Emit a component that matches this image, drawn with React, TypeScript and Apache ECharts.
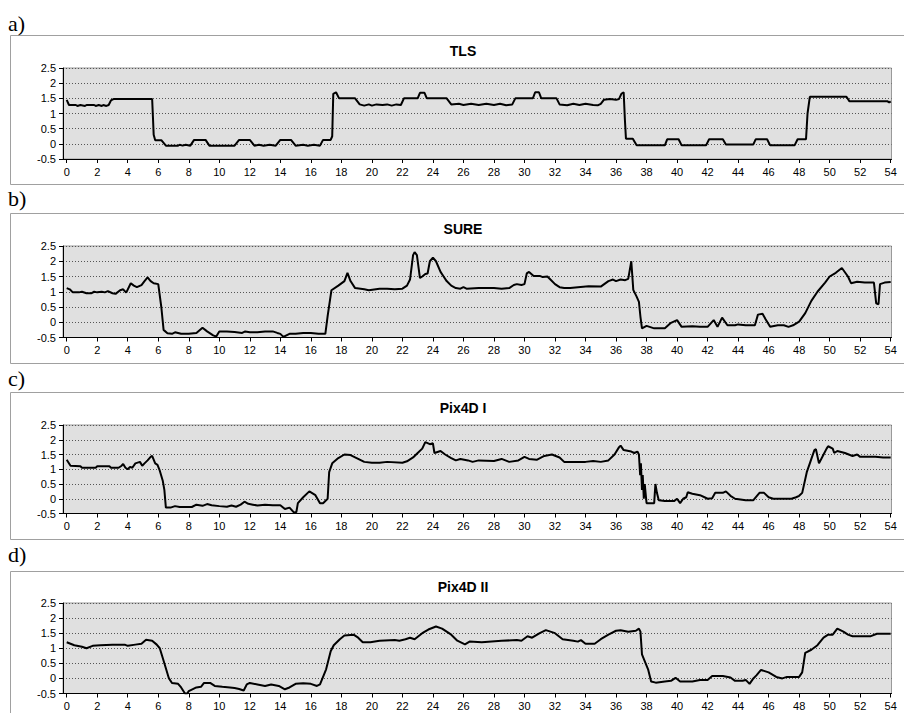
import React, { useEffect, useRef } from "react";
import * as echarts from "echarts";

// ---------- data (x = position, y = value) ----------
const X_TICKS = [0, 2, 4, 6, 8, 10, 12, 14, 16, 18, 20, 22, 24, 26, 28, 30, 32, 34, 36, 38, 40, 42, 44, 46, 48, 50, 52, 54];
const Y_TICKS_MIN = -0.5;
const Y_TICKS_MAX = 2.5;
const Y_INTERVAL = 0.5;

const LABELS = ["a)", "b)", "c)", "d)"];
const TITLES = ["TLS", "SURE", "Pix4D I", "Pix4D II"];

const TLS: [number, number][] = [
  [0, 1.45], [0.15, 1.28], [0.6, 1.28], [0.7, 1.25], [0.9, 1.28], [1.2, 1.25], [1.3, 1.28], [1.8, 1.28], [1.9, 1.25], [2.1, 1.28],
  [2.3, 1.25], [2.4, 1.28], [2.6, 1.25], [2.75, 1.28], [2.9, 1.43], [3.1, 1.48], [5.6, 1.48], [5.65, 0.9], [5.7, 0.3], [5.8, 0.12],
  [6.2, 0.12], [6.5, -0.06], [7.3, -0.06], [7.4, -0.03], [7.6, -0.06], [7.8, -0.03], [8.1, -0.06], [8.35, 0.13], [9.1, 0.13],
  [9.35, -0.06], [11.0, -0.06], [11.3, 0.13], [12.0, 0.13], [12.3, -0.06], [12.6, -0.03], [12.9, -0.06], [13.3, -0.03], [13.7, -0.06],
  [14.0, 0.13], [14.7, 0.13], [15.0, -0.06], [15.5, -0.03], [15.8, -0.06], [16.2, -0.03], [16.6, -0.06], [16.8, 0.13], [17.3, 0.13],
  [17.4, 0.25], [17.47, 1.65], [17.65, 1.7], [17.85, 1.5], [18.9, 1.5], [19.2, 1.3], [19.5, 1.26], [19.8, 1.3], [20.0, 1.26],
  [20.3, 1.3], [20.7, 1.28], [21.0, 1.3], [21.3, 1.26], [21.6, 1.3], [21.9, 1.28], [22.1, 1.5], [23.0, 1.5], [23.15, 1.68],
  [23.45, 1.68], [23.6, 1.5], [24.9, 1.5], [25.2, 1.3], [25.7, 1.32], [26.0, 1.28], [26.5, 1.32], [27.0, 1.28], [27.5, 1.32],
  [28.0, 1.28], [28.4, 1.32], [28.8, 1.27], [29.2, 1.3], [29.4, 1.5], [30.55, 1.5], [30.7, 1.7], [30.95, 1.7], [31.1, 1.5],
  [32.1, 1.5], [32.3, 1.3], [32.8, 1.27], [33.2, 1.32], [33.6, 1.28], [34.0, 1.32], [34.5, 1.28], [34.8, 1.27], [35.0, 1.32],
  [35.2, 1.45], [35.6, 1.48], [36.0, 1.45], [36.2, 1.48], [36.35, 1.65], [36.5, 1.7], [36.58, 0.8], [36.65, 0.17], [37.1, 0.17],
  [37.35, -0.05], [39.2, -0.05], [39.35, 0.15], [40.1, 0.15], [40.3, -0.05], [41.9, -0.05], [42.1, 0.15], [43.0, 0.15],
  [43.2, -0.02], [45.0, -0.02], [45.15, 0.15], [45.9, 0.15], [46.1, -0.05], [47.7, -0.05], [47.9, 0.15], [48.45, 0.15],
  [48.55, 1.0], [48.7, 1.55], [51.1, 1.55], [51.3, 1.4], [53.8, 1.4], [53.9, 1.36], [54, 1.4],
];

const SURE: [number, number][] = [
  [0, 1.12], [0.2, 1.08], [0.4, 0.98], [0.8, 0.98], [1.0, 1.0], [1.3, 0.95], [1.6, 0.95], [1.8, 1.0], [2.0, 0.98], [2.3, 1.0],
  [2.5, 0.98], [2.7, 1.02], [3.0, 0.95], [3.2, 0.93], [3.5, 1.05], [3.7, 1.08], [3.9, 0.97], [4.2, 1.28], [4.4, 1.2], [4.6, 1.15],
  [4.9, 1.22], [5.1, 1.35], [5.3, 1.47], [5.5, 1.35], [5.7, 1.28], [6.0, 1.25], [6.2, 0.5], [6.35, -0.25], [6.6, -0.36],
  [6.9, -0.38], [7.1, -0.33], [7.5, -0.38], [8.0, -0.38], [8.5, -0.35], [8.9, -0.18], [9.2, -0.3], [9.6, -0.43], [9.8, -0.47],
  [10.0, -0.3], [10.5, -0.3], [11.0, -0.32], [11.5, -0.35], [11.7, -0.3], [12.0, -0.33], [12.5, -0.33], [13.0, -0.3],
  [13.5, -0.3], [13.8, -0.35], [14.0, -0.38], [14.2, -0.48], [14.6, -0.38], [15.0, -0.38], [15.5, -0.35], [16.0, -0.35],
  [16.5, -0.38], [16.95, -0.38], [17.1, 0.2], [17.35, 1.05], [17.8, 1.2], [18.2, 1.35], [18.4, 1.62], [18.6, 1.35],
  [18.9, 1.12], [19.5, 1.08], [19.8, 1.05], [20.5, 1.1], [21.0, 1.1], [21.5, 1.08], [22.0, 1.1], [22.3, 1.2], [22.5, 1.4],
  [22.7, 2.2], [22.8, 2.3], [22.95, 2.2], [23.15, 1.45], [23.3, 1.5], [23.5, 1.58], [23.65, 1.6], [23.8, 2.0], [24.0, 2.12],
  [24.2, 2.0], [24.5, 1.65], [24.7, 1.5], [24.9, 1.35], [25.2, 1.2], [25.5, 1.12], [25.8, 1.1], [26.0, 1.15], [26.2, 1.1],
  [27.0, 1.12], [28.0, 1.12], [28.5, 1.1], [29.0, 1.12], [29.3, 1.22], [29.5, 1.25], [29.8, 1.22], [30.0, 1.25], [30.15, 1.6],
  [30.3, 1.65], [30.6, 1.52], [31.0, 1.52], [31.2, 1.48], [31.5, 1.5], [31.7, 1.4], [32.0, 1.25], [32.3, 1.15], [32.6, 1.12],
  [33.0, 1.12], [33.5, 1.15], [34.2, 1.18], [35.0, 1.17], [35.5, 1.35], [35.8, 1.4], [36.0, 1.35], [36.3, 1.4], [36.6, 1.38],
  [36.8, 1.42], [37.0, 2.0], [37.13, 1.06], [37.35, 0.84], [37.5, 0.67], [37.6, 0.18], [37.7, -0.2], [38.0, -0.12],
  [38.5, -0.2], [39.2, -0.2], [39.6, -0.02], [40.0, 0.07], [40.3, -0.15], [41.0, -0.13], [41.5, -0.15], [42.0, -0.15],
  [42.4, 0.07], [42.65, -0.15], [42.95, 0.15], [43.3, -0.1], [43.8, -0.1], [44.0, -0.07], [44.5, -0.1], [45.1, -0.1],
  [45.3, 0.25], [45.6, 0.28], [45.8, 0.1], [46.1, -0.15], [46.6, -0.1], [47.0, -0.1], [47.3, -0.15], [47.6, -0.1],
  [48.0, 0.02], [48.4, 0.3], [48.8, 0.7], [49.2, 1.0], [49.7, 1.3], [50.0, 1.5], [50.4, 1.62], [50.8, 1.78], [51.2, 1.5],
  [51.4, 1.28], [51.8, 1.33], [52.3, 1.3], [52.9, 1.3], [53.05, 0.62], [53.2, 0.59], [53.3, 1.25], [53.6, 1.3], [54, 1.32],
];

const PIX4D_I: [number, number][] = [
  [0, 1.32], [0.25, 1.12], [0.9, 1.1], [1.0, 1.05], [1.9, 1.05], [2.0, 1.1], [2.8, 1.1], [2.9, 1.05], [3.4, 1.05], [3.6, 1.12],
  [3.7, 1.18], [3.85, 1.05], [4.0, 1.0], [4.15, 1.08], [4.3, 1.05], [4.5, 1.2], [4.8, 1.25], [4.95, 1.12], [5.1, 1.2],
  [5.3, 1.3], [5.5, 1.42], [5.6, 1.45], [5.8, 1.2], [5.95, 1.15], [6.1, 0.95], [6.3, 0.6], [6.4, 0.3], [6.5, -0.3],
  [6.8, -0.3], [7.1, -0.25], [7.4, -0.28], [8.2, -0.28], [8.5, -0.2], [8.9, -0.24], [9.2, -0.18], [9.5, -0.22], [10.0, -0.25],
  [10.5, -0.27], [10.8, -0.23], [11.1, -0.27], [11.4, -0.2], [11.65, -0.1], [11.9, -0.17], [12.2, -0.2], [12.5, -0.23],
  [13.0, -0.2], [13.5, -0.22], [14.0, -0.22], [14.3, -0.35], [14.6, -0.3], [14.9, -0.47], [15.05, -0.45], [15.15, -0.15],
  [15.5, 0.05], [15.9, 0.25], [16.3, 0.12], [16.6, -0.15], [16.8, -0.15], [17.0, -0.05], [17.1, 0.0], [17.2, 0.9], [17.4, 1.2],
  [17.8, 1.38], [18.2, 1.5], [18.6, 1.48], [19.0, 1.38], [19.5, 1.25], [20.0, 1.22], [20.5, 1.22], [21.0, 1.25], [22.0, 1.22],
  [22.3, 1.27], [22.7, 1.4], [23.0, 1.55], [23.3, 1.7], [23.5, 1.92], [23.8, 1.85], [24.0, 1.88], [24.1, 1.55], [24.5, 1.62],
  [24.8, 1.5], [25.2, 1.38], [25.5, 1.3], [25.8, 1.35], [26.3, 1.3], [26.6, 1.25], [27.0, 1.3], [28.0, 1.28], [28.5, 1.35],
  [29.0, 1.25], [29.6, 1.3], [30.0, 1.42], [30.3, 1.35], [30.8, 1.32], [31.3, 1.45], [31.8, 1.5], [32.3, 1.4], [32.6, 1.25],
  [34.0, 1.25], [34.5, 1.28], [35.0, 1.25], [35.5, 1.3], [35.9, 1.5], [36.2, 1.75], [36.3, 1.8], [36.5, 1.65], [37.0, 1.6],
  [37.2, 1.55], [37.4, 1.6], [37.5, 1.5], [37.58, 0.8], [37.63, 1.2], [37.7, 0.3], [37.75, 0.8], [37.82, 0.0], [37.88, 0.5],
  [38.0, -0.15], [38.5, -0.15], [38.58, 0.5], [38.68, 0.2], [38.8, -0.05], [39.2, -0.08], [39.8, -0.08], [40.0, 0.0],
  [40.2, -0.15], [40.4, 0.0], [40.6, 0.05], [40.7, 0.22], [41.0, 0.17], [41.5, 0.12], [41.8, 0.05], [42.0, 0.0], [42.3, 0.02],
  [42.5, 0.2], [43.0, 0.2], [43.2, 0.25], [43.5, 0.1], [43.8, 0.0], [44.5, -0.05], [45.0, -0.05], [45.4, 0.2], [45.7, 0.2],
  [46.0, 0.05], [46.3, 0.0], [47.5, 0.0], [47.8, 0.05], [48.0, 0.1], [48.2, 0.2], [48.5, 0.9], [48.7, 1.2], [48.8, 1.35],
  [49.0, 1.65], [49.1, 1.68], [49.3, 1.2], [49.6, 1.5], [49.8, 1.7], [49.9, 1.78], [50.2, 1.7], [50.3, 1.55], [50.5, 1.62],
  [51.0, 1.55], [51.5, 1.45], [51.8, 1.5], [52.0, 1.42], [53.0, 1.42], [53.5, 1.4], [54, 1.4],
];

const PIX4D_II: [number, number][] = [
  [0, 1.2], [0.5, 1.1], [1.0, 1.05], [1.3, 1.0], [1.7, 1.08], [2.2, 1.1], [3.0, 1.12], [3.8, 1.12], [4.0, 1.08], [4.5, 1.12],
  [4.9, 1.15], [5.2, 1.28], [5.6, 1.25], [5.9, 1.12], [6.1, 1.0], [6.4, 0.5], [6.7, 0.0], [6.9, -0.15], [7.3, -0.18],
  [7.5, -0.3], [7.75, -0.5], [7.9, -0.5], [8.0, -0.42], [8.5, -0.3], [8.8, -0.28], [9.0, -0.15], [9.4, -0.15], [9.7, -0.25],
  [10.2, -0.28], [10.7, -0.3], [11.0, -0.32], [11.3, -0.35], [11.6, -0.4], [11.8, -0.2], [12.0, -0.15], [12.5, -0.2],
  [13.0, -0.25], [13.4, -0.2], [13.9, -0.25], [14.3, -0.36], [14.6, -0.3], [15.0, -0.18], [15.5, -0.16], [16.0, -0.18],
  [16.4, -0.25], [16.6, -0.2], [17.0, 0.3], [17.3, 0.9], [17.5, 1.1], [17.9, 1.3], [18.2, 1.42], [18.8, 1.45], [19.1, 1.35],
  [19.4, 1.2], [19.9, 1.2], [20.5, 1.25], [21.5, 1.27], [21.8, 1.25], [22.2, 1.3], [22.5, 1.35], [22.8, 1.3], [23.3, 1.5],
  [23.7, 1.62], [24.2, 1.72], [24.6, 1.65], [25.2, 1.45], [25.6, 1.25], [26.1, 1.13], [26.4, 1.22], [27.2, 1.2], [28.5, 1.25],
  [29.5, 1.27], [29.8, 1.25], [30.2, 1.4], [30.5, 1.35], [31.0, 1.5], [31.4, 1.6], [32.0, 1.5], [32.5, 1.3], [33.2, 1.25],
  [33.5, 1.22], [33.7, 1.27], [34.0, 1.15], [34.6, 1.15], [35.0, 1.3], [35.5, 1.45], [36.0, 1.58], [36.3, 1.6], [36.8, 1.55],
  [37.3, 1.58], [37.5, 1.65], [37.6, 1.55], [37.7, 0.8], [37.9, 0.55], [38.1, 0.3], [38.3, -0.1], [38.6, -0.14], [39.2, -0.1],
  [39.6, -0.08], [39.9, 0.02], [40.2, -0.1], [41.0, -0.1], [41.5, -0.05], [42.0, -0.05], [42.3, 0.08], [43.0, 0.08],
  [43.5, 0.03], [43.8, -0.08], [44.3, -0.08], [44.5, -0.05], [44.75, -0.18], [45.0, 0.0], [45.2, 0.1], [45.5, 0.28],
  [46.0, 0.2], [46.5, 0.05], [46.9, 0.0], [47.2, 0.05], [48.0, 0.05], [48.2, 0.2], [48.4, 0.85], [48.8, 0.95], [49.2, 1.1],
  [49.6, 1.35], [49.9, 1.45], [50.2, 1.45], [50.5, 1.65], [50.9, 1.55], [51.2, 1.45], [51.5, 1.4], [52.7, 1.4], [53.1, 1.48],
  [54, 1.48],
];

const SERIES_DATA = [TLS, SURE, PIX4D_I, PIX4D_II];

// ---------- layout ----------
const W = 904;
const H = 713;
const BOX_TOP = [35, 213, 392, 571];
const BOX_BOTTOM = [184, 363, 539, 760];
const LABEL_Y = [23, 198, 378, 554];
const PLOT_TOP = [68, 246, 425, 603];
const PLOT_BOTTOM = [159, 337.5, 513.5, 693.5];
const PLOT_LEFT = 63;
const PLOT_RIGHT = 891.5;
const X0_PX = 66.7; // pixel of x = 0
const X54_PX = 890.7; // pixel of x = 54
const PX_PER_UNIT = (X54_PX - X0_PX) / 54;
const X_MIN = -(X0_PX - PLOT_LEFT) / PX_PER_UNIT;
const X_MAX = 54 + (PLOT_RIGHT - X54_PX) / PX_PER_UNIT;

const SANS = '"Liberation Sans", Arial, sans-serif';
const SERIF = '"Liberation Serif", "Times New Roman", serif';

export default function App() {
  const ref = useRef<HTMLDivElement>(null);

  useEffect(() => {
    if (!ref.current) return;
    const chart = echarts.init(ref.current, undefined, { renderer: "svg" });

    const grids = SERIES_DATA.map((_, i) => ({
      left: PLOT_LEFT,
      width: PLOT_RIGHT - PLOT_LEFT,
      top: PLOT_TOP[i],
      height: PLOT_BOTTOM[i] - PLOT_TOP[i],
      show: true,
      backgroundColor: "#e0e0e0",
      borderColor: "#9a9a9a",
      borderWidth: 1,
      containLabel: false,
    }));

    const xAxes = SERIES_DATA.map((_, i) => ({
      gridIndex: i,
      type: "value",
      min: X_MIN,
      max: X_MAX,
      axisLine: { show: true, onZero: false, lineStyle: { color: "#000", width: 1 } },
      axisTick: { show: true, length: 4, customValues: X_TICKS, lineStyle: { color: "#000" } },
      axisLabel: {
        customValues: X_TICKS,
        fontSize: 11,
        fontFamily: SANS,
        color: "#000",
        margin: 7,
      },
      splitLine: { show: false },
    }));

    const yAxes = SERIES_DATA.map((_, i) => ({
      gridIndex: i,
      type: "value",
      min: Y_TICKS_MIN,
      max: Y_TICKS_MAX,
      interval: Y_INTERVAL,
      axisLine: { show: true, onZero: false, lineStyle: { color: "#000", width: 1 } },
      axisTick: { show: true, length: 4, lineStyle: { color: "#000" } },
      axisLabel: { fontSize: 11, fontFamily: SANS, color: "#000", margin: 7 },
      splitLine: { show: true, lineStyle: { type: [1, 2], color: "#555", width: 1 } },
    }));

    const series = SERIES_DATA.map((d, i) => ({
      type: "line",
      xAxisIndex: i,
      yAxisIndex: i,
      data: d,
      showSymbol: false,
      symbol: "none",
      clip: true,
      lineStyle: { color: "#000", width: 2 },
      emphasis: { disabled: true },
    }));

    const graphic: any[] = [];
    SERIES_DATA.forEach((_, i) => {
      graphic.push({
        type: "rect",
        silent: true,
        z: 0,
        shape: { x: 10.5, y: BOX_TOP[i] + 0.5, width: 920, height: BOX_BOTTOM[i] - BOX_TOP[i] },
        style: { fill: "none", stroke: "#a0a0a0", lineWidth: 1 },
      });
      graphic.push({
        type: "text",
        silent: true,
        x: 8,
        y: LABEL_Y[i],
        style: {
          text: LABELS[i],
          fontSize: 22,
          fontFamily: SERIF,
          fill: "#000",
          verticalAlign: "middle",
          align: "left",
        },
      });
      graphic.push({
        type: "text",
        silent: true,
        x: 463,
        y: BOX_TOP[i] + 16,
        style: {
          text: TITLES[i],
          fontSize: 14,
          fontWeight: "bold",
          fontFamily: SANS,
          fill: "#000",
          verticalAlign: "middle",
          align: "center",
        },
      });
    });

    chart.setOption({
      animation: false,
      backgroundColor: "#fff",
      grid: grids,
      xAxis: xAxes,
      yAxis: yAxes,
      series,
      graphic,
    });

    return () => chart.dispose();
  }, []);

  return (
    <div
      ref={ref}
      style={{ position: "absolute", left: 0, top: 0, width: W, height: H }}
    />
  );
}
